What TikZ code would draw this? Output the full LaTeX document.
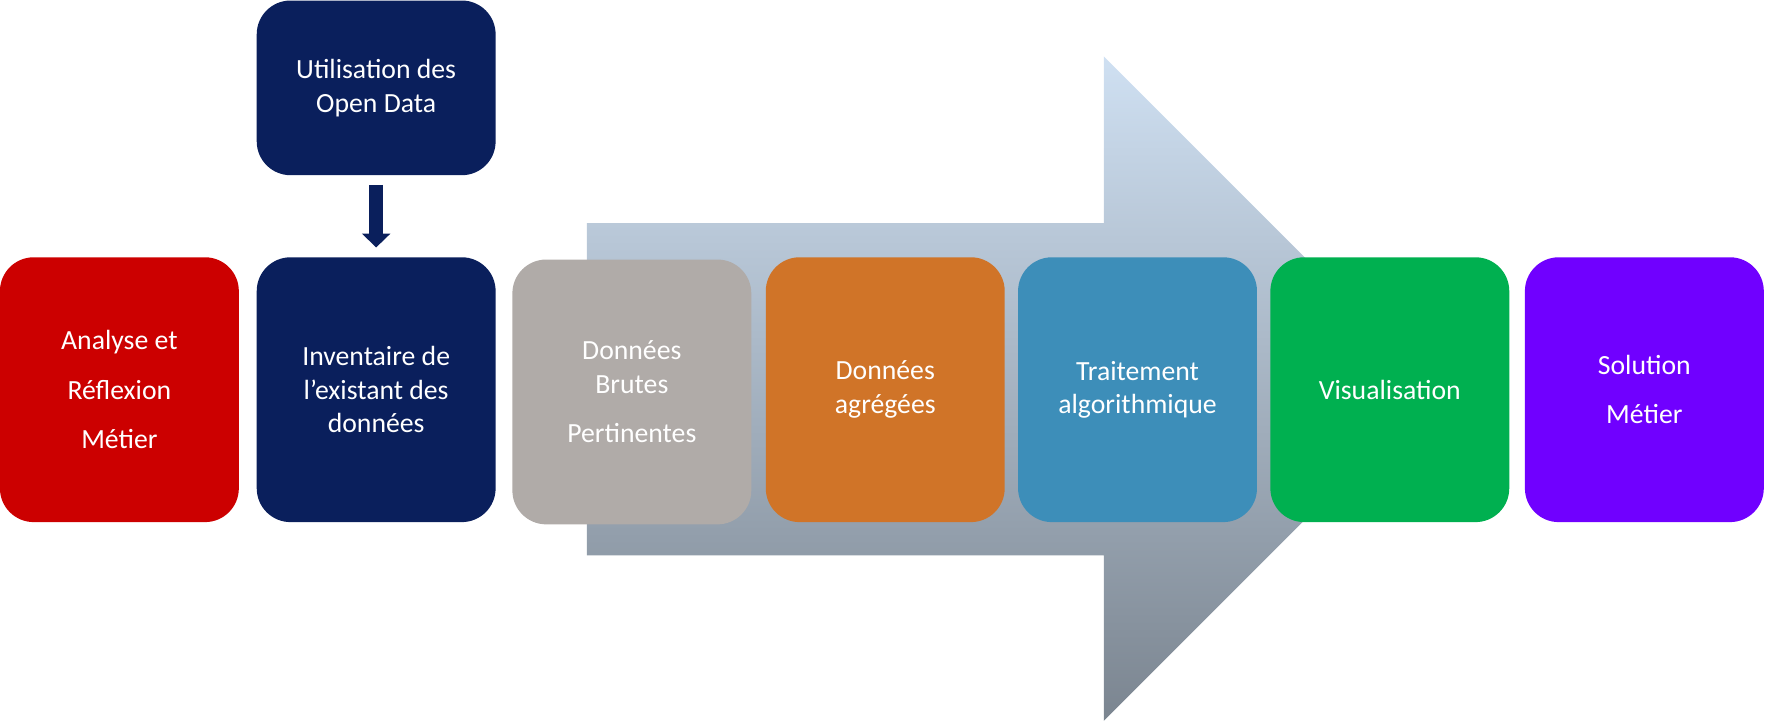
\documentclass[tikz,border=0pt]{standalone}
\usepackage{fontspec}
\setmainfont{Carlito}
\usetikzlibrary{arrows.meta}
\definecolor{navy}{HTML}{0A1F5C}
\definecolor{rouge}{HTML}{CC0000}
\definecolor{gris}{HTML}{B0ABA8}
\definecolor{orange}{HTML}{D07428}
\definecolor{bleu}{HTML}{3D8EB9}
\definecolor{vert}{HTML}{00B050}
\definecolor{violet}{HTML}{7000FF}
\definecolor{flechehaut}{HTML}{CFE0F2}
\definecolor{flechebas}{HTML}{7B8590}
\begin{document}
\begin{tikzpicture}[
    x=0.01cm, y=-0.01cm,
    font=\fontsize{7}{8.5}\selectfont,
    % styles
    etape/.style={rounded corners=0.3cm, text=white, align=center,
        minimum width=2.12cm, minimum height=2.35cm, inner sep=0pt},
    haut/.style={etape, minimum height=1.55cm}
]
\useasboundingbox (0,0) rectangle (1568,642);

% --- grande fleche en fond ---
\shade[top color=flechehaut, bottom color=flechebas]
    (521,198) -- (980,198) -- (980,50) -- (1275,345) -- (980,640)
    -- (980,493) -- (521,493) -- cycle;

% --- etapes ---
\node[haut, fill=navy] (opendata) at (334,78) {Utilisation des\\Open Data};
\node[etape, fill=rouge] (analyse) at (106,346)
    {Analyse et\\[4pt]Réflexion\\[4pt]Métier};
\node[etape, fill=navy] (inventaire) at (334,346)
    {Inventaire de\\l’existant des\\données};
\node[etape, fill=gris] (brutes) at (561,348)
    {Données\\Brutes\\[4pt]Pertinentes};
\node[etape, fill=orange] (agregees) at (786,346) {Données\\agrégées};
\node[etape, fill=bleu] (traitement) at (1010,346) {Traitement\\algorithmique};
\node[etape, fill=vert] (visu) at (1234,346) {Visualisation};
\node[etape, fill=violet] (solution) at (1460,346) {Solution\\[4pt]Métier};

% --- fleche descendante ---
\draw[navy, line width=3.5pt, -{Triangle[width=7pt,length=3.5pt]}]
    ([yshift=-0.08cm]opendata.south) -- ([yshift=0.08cm]inventaire.north);
\end{tikzpicture}
\end{document}
